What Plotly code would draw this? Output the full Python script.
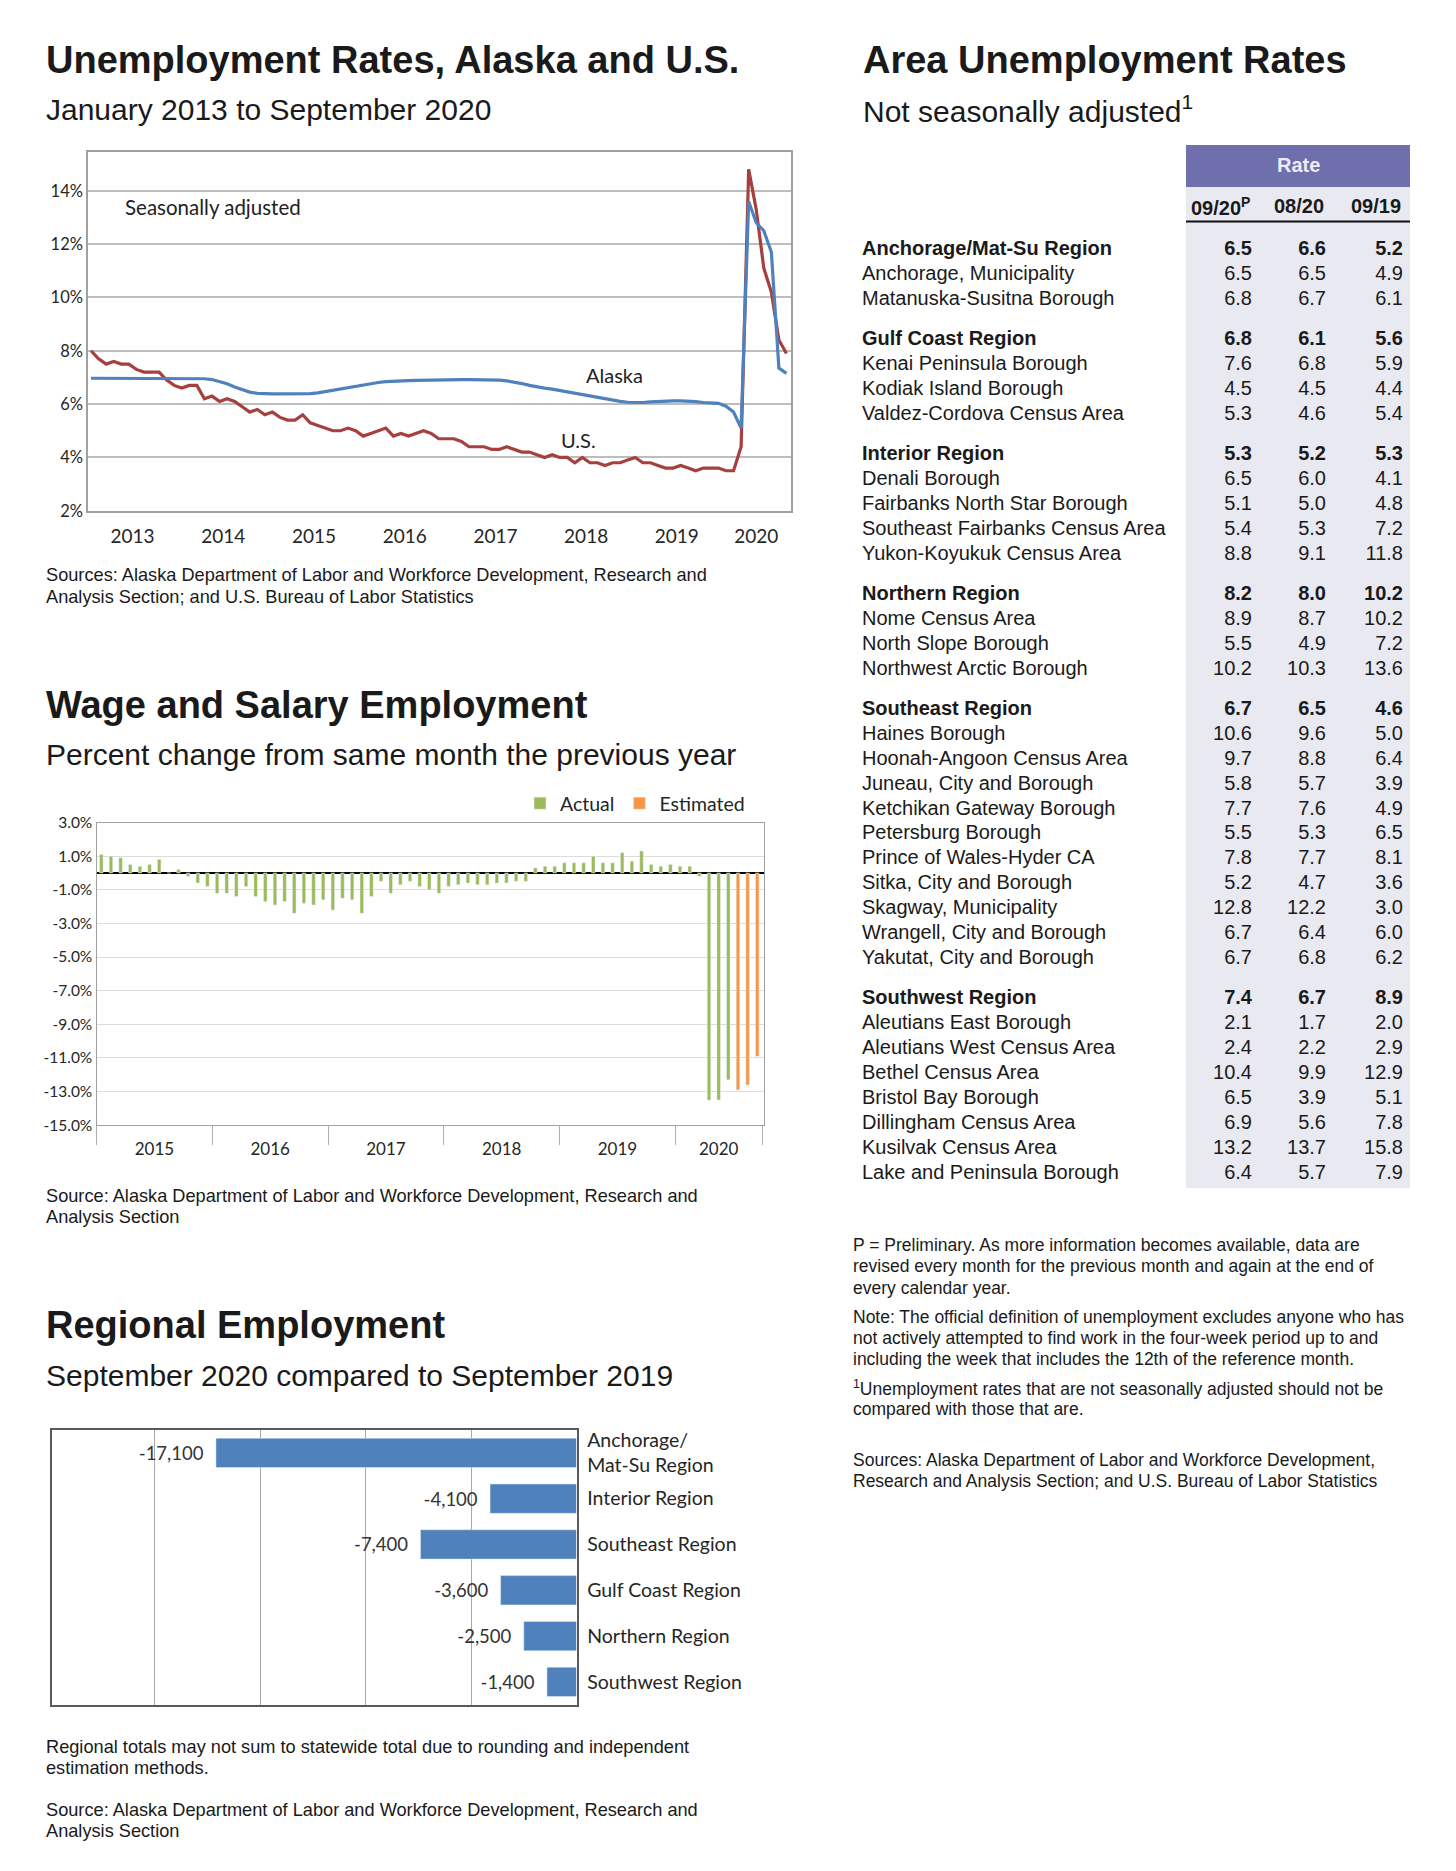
import plotly.graph_objects as go

W, H = 1456, 1871          # page size of the reference
OX, OY = 8, 19             # observed offset of the figure inside the page
SY = 1.0101                # observed vertical scale of the photographed page
FW, FH = W - 2 * OX, 1844
ARIAL = "Liberation Sans, Arial, sans-serif"
CAL = "Lato, Carlito, Calibri, sans-serif"
INK = "#1a1a1a"


def fx(x):
    return (x - OX) / FW


def fy(y):
    return 1 - (SY * y - OY) / FH


# ---------------- Chart 1: unemployment rates (monthly, Jan 2013 - Sep 2020) ----------------
unemp_years = ["2013", "2014", "2015", "2016", "2017", "2018", "2019", "2020"]
alaska_rate = [
    6.97, 6.97, 6.96, 6.95, 6.95, 6.94, 6.94, 6.94, 6.94, 6.94, 6.95, 6.95,
    6.96, 6.96, 6.96, 6.95, 6.92, 6.85, 6.76, 6.64, 6.53, 6.45, 6.40, 6.38,
    6.38, 6.38, 6.38, 6.38, 6.38, 6.39, 6.42, 6.47, 6.53, 6.58, 6.63, 6.68,
    6.72, 6.77, 6.81, 6.84, 6.86, 6.87, 6.88, 6.89, 6.90, 6.91, 6.91, 6.92,
    6.92, 6.92, 6.92, 6.92, 6.92, 6.91, 6.90, 6.87, 6.83, 6.77, 6.70, 6.64,
    6.60, 6.56, 6.51, 6.46, 6.41, 6.36, 6.30, 6.25, 6.19, 6.14, 6.10, 6.07,
    6.06, 6.06, 6.08, 6.10, 6.12, 6.12, 6.12, 6.11, 6.09, 6.06, 6.05, 6.03,
    5.92, 5.70, 5.10, 13.6, 12.8, 12.5, 11.7, 7.35, 7.15,
]
us_rate = [
    8.0, 7.7, 7.5, 7.6, 7.5, 7.5, 7.3, 7.2, 7.2, 7.2, 6.9, 6.7,
    6.6, 6.7, 6.7, 6.2, 6.3, 6.1, 6.2, 6.1, 5.9, 5.7, 5.8, 5.6,
    5.7, 5.5, 5.4, 5.4, 5.6, 5.3, 5.2, 5.1, 5.0, 5.0, 5.1, 5.0,
    4.8, 4.9, 5.0, 5.1, 4.8, 4.9, 4.8, 4.9, 5.0, 4.9, 4.7, 4.7,
    4.7, 4.6, 4.4, 4.4, 4.4, 4.3, 4.3, 4.4, 4.3, 4.2, 4.2, 4.1,
    4.0, 4.1, 4.0, 4.0, 3.8, 4.0, 3.8, 3.8, 3.7, 3.8, 3.8, 3.9,
    4.0, 3.8, 3.8, 3.7, 3.6, 3.6, 3.7, 3.6, 3.5, 3.6, 3.6, 3.6,
    3.5, 3.5, 4.4, 14.8, 13.3, 11.1, 10.2, 8.4, 7.9,
]
unemp_ticks = [2, 4, 6, 8, 10, 12, 14]

# ---------------- Chart 2: wage and salary employment, % change (Jan 2015 - Sep 2020) ----------------
wage_years = ["2015", "2016", "2017", "2018", "2019", "2020"]
wage_actual = [
    1.1, 1.0, 0.9, 0.5, 0.4, 0.5, 0.8, 0.0, 0.2, -0.2, -0.6, -0.8,
    -1.2, -1.2, -1.4, -0.8, -1.4, -1.7, -1.9, -1.7, -2.4, -1.8, -1.9, -1.6,
    -2.2, -1.5, -1.6, -2.4, -1.4, -0.5, -1.2, -0.7, -0.5, -0.8, -1.0, -1.2,
    -0.8, -0.7, -0.6, -0.7, -0.7, -0.6, -0.6, -0.5, -0.5, 0.3, 0.4, 0.4,
    0.6, 0.6, 0.6, 1.0, 0.6, 0.6, 1.2, 0.7, 1.3, 0.5, 0.4, 0.5,
    0.4, 0.4, -0.2, -13.5, -13.5, -12.3,
]
wage_estimated = [-12.9, -12.6, -10.9]
wage_ticks = [3, 1, -1, -3, -5, -7, -9, -11, -13, -15]

# ---------------- Chart 3: regional employment change ----------------
regions = ["Anchorage/<br>Mat-Su Region", "Interior Region", "Southeast Region",
           "Gulf Coast Region", "Northern Region", "Southwest Region"]
region_change = [-17100, -4100, -7400, -3600, -2500, -1400]

# ---------------- Table: area unemployment rates ----------------
rate_headers = ["09/20<sup>P</sup>", "08/20", "09/19"]
areas = [
    "Anchorage/Mat-Su Region", "Anchorage, Municipality", "Matanuska-Susitna Borough",
    "Gulf Coast Region", "Kenai Peninsula Borough", "Kodiak Island Borough", "Valdez-Cordova Census Area",
    "Interior Region", "Denali Borough", "Fairbanks North Star Borough",
    "Southeast Fairbanks Census Area", "Yukon-Koyukuk Census Area",
    "Northern Region", "Nome Census Area", "North Slope Borough", "Northwest Arctic Borough",
    "Southeast Region", "Haines Borough", "Hoonah-Angoon Census Area", "Juneau, City and Borough",
    "Ketchikan Gateway Borough", "Petersburg Borough", "Prince of Wales-Hyder CA",
    "Sitka, City and Borough", "Skagway, Municipality", "Wrangell, City and Borough",
    "Yakutat, City and Borough",
    "Southwest Region", "Aleutians East Borough", "Aleutians West Census Area", "Bethel Census Area",
    "Bristol Bay Borough", "Dillingham Census Area", "Kusilvak Census Area", "Lake and Peninsula Borough",
]
rate_sep20 = [6.5, 6.5, 6.8, 6.8, 7.6, 4.5, 5.3, 5.3, 6.5, 5.1, 5.4, 8.8, 8.2, 8.9, 5.5, 10.2,
              6.7, 10.6, 9.7, 5.8, 7.7, 5.5, 7.8, 5.2, 12.8, 6.7, 6.7, 7.4, 2.1, 2.4, 10.4, 6.5, 6.9, 13.2, 6.4]
rate_aug20 = [6.6, 6.5, 6.7, 6.1, 6.8, 4.5, 4.6, 5.2, 6.0, 5.0, 5.3, 9.1, 8.0, 8.7, 4.9, 10.3,
              6.5, 9.6, 8.8, 5.7, 7.6, 5.3, 7.7, 4.7, 12.2, 6.4, 6.8, 6.7, 1.7, 2.2, 9.9, 3.9, 5.6, 13.7, 5.7]
rate_sep19 = [5.2, 4.9, 6.1, 5.6, 5.9, 4.4, 5.4, 5.3, 4.1, 4.8, 7.2, 11.8, 10.2, 10.2, 7.2, 13.6,
              4.6, 5.0, 6.4, 3.9, 4.9, 6.5, 8.1, 3.6, 3.0, 6.0, 6.2, 8.9, 2.0, 2.9, 12.9, 5.1, 7.8, 15.8, 7.9]

fig = go.Figure()

# ---- Chart 1 traces
m1 = list(range(len(us_rate)))
fig.add_trace(go.Scatter(x=m1, y=us_rate, mode="lines", name="U.S.",
                         line=dict(color="#A5403E", width=3.2), xaxis="x", yaxis="y", showlegend=False))
fig.add_trace(go.Scatter(x=m1, y=alaska_rate, mode="lines", name="Alaska",
                         line=dict(color="#4F81BD", width=3.2), xaxis="x", yaxis="y", showlegend=False))
yc1 = []
for i in range(len(unemp_years)):
    a, b = 12 * i, min(12 * i + 11, len(us_rate) - 1)
    yc1.append((a + b) / 2)

# ---- Chart 2 traces
n_act = len(wage_actual)
x_act = list(range(n_act))
x_est = list(range(n_act, n_act + len(wage_estimated)))
n2 = n_act + len(wage_estimated)
fig.add_trace(go.Bar(x=x_act, y=wage_actual, name="Actual", marker_color="#9BBB59", width=0.36,
                     xaxis="x2", yaxis="y2", showlegend=True))
fig.add_trace(go.Bar(x=x_est, y=wage_estimated, name="Estimated", marker_color="#F79646", width=0.36,
                     xaxis="x2", yaxis="y2", showlegend=True))
yc2, bounds2 = [], []
for i in range(len(wage_years)):
    a, b = 12 * i, min(12 * i + 11, n2 - 1)
    yc2.append((a + b) / 2)
    bounds2.append(a - 0.5)
bounds2.append(n2 - 0.5)

# ---- Chart 3 trace
NBSP = "\u00a0"
fig.add_trace(go.Bar(x=region_change, y=regions, orientation="h", marker_color="#4F81BD",
                     text=[f"{v:,}{NBSP}{NBSP}" for v in region_change], textposition="outside",
                     textfont=dict(family=CAL, size=18.5, color="#333333"), cliponaxis=False,
                     xaxis="x3", yaxis="y3", showlegend=False))

# ---- Table traces
row_y = []
yy = 0.0
for i, name in enumerate(areas):
    if i > 0:
        yy += 1.6 if name.endswith("Region") else 1.0
    row_y.append(yy)
is_reg = [n.endswith("Region") for n in areas]


def bold(s, b):
    return f"<b>{s}</b>" if b else s


ROW0, ROWH = 251, 25.0
LABEL_X = 862
COL_X = [1252, 1326, 1403]
HEAD_X = [1220, 1299, 1376]
fig.add_trace(go.Scatter(x=[LABEL_X] * len(areas), y=row_y, mode="text",
                         text=[bold(a, r) for a, r in zip(areas, is_reg)], textposition="middle right",
                         textfont=dict(family=ARIAL, size=20, color=INK), xaxis="x4", yaxis="y4",
                         showlegend=False, hoverinfo="skip"))
for cx, col in zip(COL_X, [rate_sep20, rate_aug20, rate_sep19]):
    fig.add_trace(go.Scatter(x=[cx] * len(col), y=row_y, mode="text",
                             text=[bold(f"{v:.1f}", r) for v, r in zip(col, is_reg)],
                             textposition="middle left",
                             textfont=dict(family=ARIAL, size=20, color=INK), xaxis="x4", yaxis="y4",
                             showlegend=False, hoverinfo="skip"))

ann = []


def txt(x, y, s, size, bold_=False, color=INK, family=ARIAL, xanchor="left", xref="paper", yref="paper"):
    if xref == "paper":
        x, y = fx(x), fy(y)
    ann.append(dict(x=x, y=y, xref=xref, yref=yref, text=f"<b>{s}</b>" if bold_ else s,
                    showarrow=False, xanchor=xanchor, yanchor="middle",
                    font=dict(family=family, size=size, color=color)))


# Left titles and notes
LX = 44
txt(LX, 61, "Unemployment Rates, Alaska and U.S.", 38, True)
txt(LX, 110, "January 2013 to September 2020", 30)
txt(LX, 576, "Sources: Alaska Department of Labor and Workforce Development, Research and", 18.2)
txt(LX, 598, "Analysis Section; and U.S. Bureau of Labor Statistics", 18.2)
txt(LX, 706, "Wage and Salary Employment", 38, True)
txt(LX, 756, "Percent change from same month the previous year", 30)
txt(LX, 1198, "Source: Alaska Department of Labor and Workforce Development, Research and", 18.2)
txt(LX, 1219, "Analysis Section", 18.2)
txt(LX, 1327, "Regional Employment", 38, True)
txt(LX, 1377, "September 2020 compared to September 2019", 30)
txt(LX, 1749, "Regional totals may not sum to statewide total due to rounding and independent", 18.2)
txt(LX, 1770, "estimation methods.", 18.2)
txt(LX, 1812, "Source: Alaska Department of Labor and Workforce Development, Research and", 18.2)
txt(LX, 1833, "Analysis Section", 18.2)

# Right titles and notes
txt(861, 61, "Area Unemployment Rates", 38, True)
txt(861, 110, "Not seasonally adjusted<sup>1</sup>", 30)
txt(1298, 166, "Rate", 20, True, color="#ECECF6", xanchor="center")
for hx, h in zip(HEAD_X, rate_headers):
    txt(hx, 207, h, 20, True, xanchor="center")
notes = [
    (1247, "P = Preliminary. As more information becomes available, data are"),
    (1268, "revised every month for the previous month and again at the end of"),
    (1290, "every calendar year."),
    (1319, "Note: The official definition of unemployment excludes anyone who has"),
    (1340, "not actively attempted to find work in the four-week period up to and"),
    (1361, "including the week that includes the 12th of the reference month."),
    (1390, "<sup>1</sup>Unemployment rates that are not seasonally adjusted should not be"),
    (1411, "compared with those that are."),
    (1462, "Sources: Alaska Department of Labor and Workforce Development,"),
    (1483, "Research and Analysis Section; and U.S. Bureau of Labor Statistics"),
]
for ny, s in notes:
    txt(851, ny, s, 17.5)

# Chart 1 in-plot labels
txt(4.2, 13.4, "Seasonally adjusted", 20.5, family=CAL, color="#222222", xref="x", yref="y")
txt(69.3, 7.1, "Alaska", 20, family=CAL, color="#222222", xanchor="center", xref="x", yref="y")
txt(64.5, 4.66, "U.S.", 20, family=CAL, color="#222222", xanchor="center", xref="x", yref="y")

shapes = [
    dict(type="rect", xref="paper", yref="paper", x0=fx(1186), x1=fx(1410), y0=fy(1190), y1=fy(188),
         fillcolor="#E9E9F1", line=dict(width=0), layer="below"),
    dict(type="rect", xref="paper", yref="paper", x0=fx(1186), x1=fx(1410), y0=fy(188), y1=fy(146),
         fillcolor="#6F6FAD", line=dict(width=0), layer="below"),
    dict(type="line", xref="paper", yref="paper", x0=fx(1186), x1=fx(1410), y0=fy(222.5), y1=fy(222.5),
         line=dict(color="#111111", width=2)),
]

tick_c = "#262626"
fig.update_layout(
    width=FW, height=FH, margin=dict(l=0, r=0, t=0, b=0),
    paper_bgcolor="white", plot_bgcolor="rgba(0,0,0,0)",
    barmode="overlay", bargap=0.36,
    annotations=ann, shapes=shapes,
    legend=dict(orientation="h", x=fx(520), y=fy(805), xanchor="left", yanchor="middle",
                font=dict(family=CAL, size=19.5, color=tick_c), bgcolor="rgba(0,0,0,0)",
                itemwidth=30, tracegroupgap=0),
    xaxis=dict(domain=[fx(88), fx(791)], range=[-0.4, 92.6], anchor="y",
               tickmode="array", tickvals=yc1, ticktext=unemp_years, ticks="",
               showgrid=False, zeroline=False, showline=True, linecolor="#a0a0a0", linewidth=1.5, mirror=True,
               tickfont=dict(family=CAL, size=19, color=tick_c), ticklabelstandoff=8),
    yaxis=dict(domain=[fy(512), fy(153)], range=[2, 15.45], anchor="x",
               tickmode="array", tickvals=unemp_ticks, ticktext=[f"{v}%" for v in unemp_ticks], ticks="",
               showgrid=True, gridcolor="#bdbdbd", gridwidth=1.5, zeroline=False,
               showline=True, linecolor="#a0a0a0", linewidth=1.5, mirror=True,
               tickfont=dict(family=CAL, size=16.5, color=tick_c)),
    xaxis2=dict(domain=[fx(96.5), fx(764)], range=[-0.5, n2 - 0.3], anchor="y2",
                tickmode="array", tickvals=yc2, ticktext=wage_years, ticks="",
                minor=dict(tickmode="array", tickvals=bounds2, ticks="outside", ticklen=19,
                           tickcolor="#b0b0b0", tickwidth=1, showgrid=False),
                showgrid=False, zeroline=False, showline=True, linecolor="#a0a0a0", linewidth=1.2, mirror=True,
                tickfont=dict(family=CAL, size=17, color=tick_c), ticklabelstandoff=8),
    yaxis2=dict(domain=[fy(1127), fy(824)], range=[-15, 3], anchor="x2",
                tickmode="array", tickvals=wage_ticks, ticktext=[f"{v:.1f}%" for v in wage_ticks], ticks="",
                showgrid=True, gridcolor="#dcdcdc", gridwidth=1.2,
                zeroline=True, zerolinecolor="#000000", zerolinewidth=2,
                showline=True, linecolor="#a0a0a0", linewidth=1.2, mirror=True,
                tickfont=dict(family=CAL, size=15.5, color=tick_c)),
    xaxis3=dict(domain=[fx(51.5), fx(576.5)], range=[-24900, 0], anchor="y3",
                showticklabels=False, ticks="", tickmode="linear", tick0=0, dtick=5000,
                showgrid=True, gridcolor="#a8a8a8", gridwidth=1, zeroline=False,
                showline=True, linecolor="#5a5a5a", linewidth=1.5, mirror=True),
    yaxis3=dict(domain=[fy(1707), fy(1432)], anchor="x3", side="right", autorange="reversed",
                ticks="", showgrid=False, zeroline=False,
                showline=True, linecolor="#5a5a5a", linewidth=1.5, mirror=True,
                tickfont=dict(family=CAL, size=19.5, color=tick_c), ticklabelstandoff=5),
    xaxis4=dict(domain=[0, 1], range=[OX, OX + FW], anchor="y4", visible=False, fixedrange=True),
    yaxis4=dict(domain=[0, 1],
                range=[((OY + FH) / SY - ROW0) / ROWH, (OY / SY - ROW0) / ROWH],
                anchor="x4", visible=False, fixedrange=True),
)

fig.write_html("out.html", config={"displayModeBar": False})
